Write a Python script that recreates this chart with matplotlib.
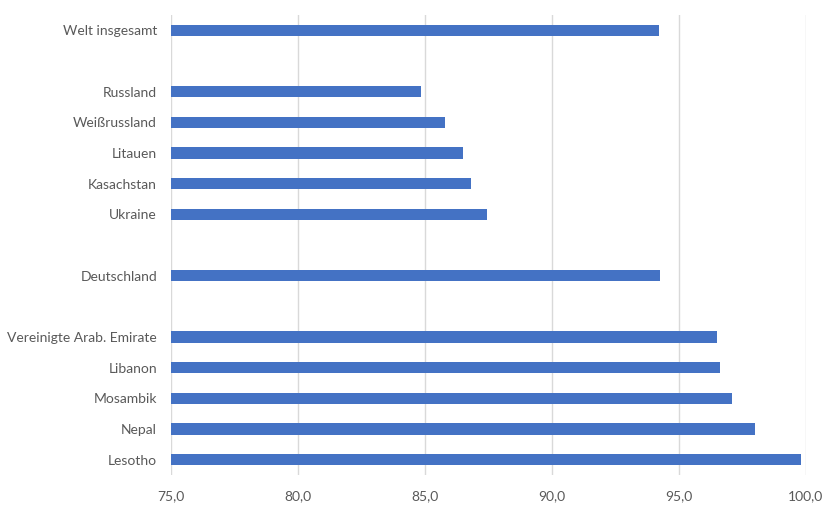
import matplotlib
matplotlib.use("Agg")
import matplotlib.pyplot as plt
from matplotlib.ticker import FuncFormatter

# rows from top to bottom, empty strings are spacer rows
labels = ["Welt insgesamt", "", "Russland", "Weißrussland", "Litauen", "Kasachstan",
          "Ukraine", "", "Deutschland", "", "Vereinigte Arab. Emirate", "Libanon",
          "Mosambik", "Nepal", "Lesotho"]
values = [94.2, None, 84.85, 85.8, 86.5, 86.8, 87.45, None, 94.25, None,
          96.5, 96.6, 97.1, 98.0, 99.8]
xticks = [75, 80, 85, 90, 95, 100]

plt.rcParams['font.family'] = ['Lato', 'DejaVu Sans']

fig = plt.figure(figsize=(8.36, 5.09), dpi=100)
ax = fig.add_axes([0.2045, 0.0668, 0.7595, 0.9037])

pos = list(range(len(labels)))
for p, v in zip(pos, values):
    if v is not None:
        ax.barh(p, v - 75, left=75, height=0.36, color='#4472c4', zorder=3)

ax.set_ylim(len(labels) - 0.5, -0.5)
ax.set_xlim(75, 100)
ax.set_yticks(pos)
ax.set_yticklabels(labels)
ax.set_xticks(xticks)
ax.xaxis.set_major_formatter(FuncFormatter(lambda x, _: f"{x:.1f}".replace('.', ',')))

ax.grid(axis='x', color='#d9d9d9', linewidth=1, zorder=0)
for s in ax.spines.values():
    s.set_visible(False)
ax.tick_params(length=0, colors='#595959', labelsize=10)
ax.tick_params(axis='y', pad=10)
ax.tick_params(axis='x', pad=11)

fig.savefig("out.png", dpi=100)
